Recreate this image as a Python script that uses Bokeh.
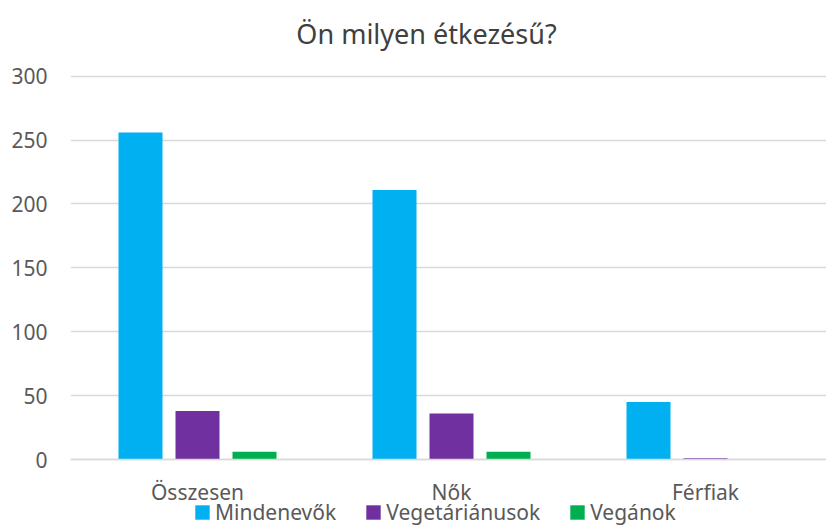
from bokeh.plotting import figure
from bokeh.models import ColumnDataSource, Range1d, FixedTicker, Legend, LegendItem, Label
from bokeh.transform import dodge
from bokeh.embed import file_html
from bokeh.resources import INLINE
import numpy as np

categories = ["Összesen", "Nők", "Férfiak"]
series = ["Mindenevők", "Vegetáriánusok", "Vegánok"]
mindenevok = [256, 211, 45]
vegetarianusok = [38, 36, 1]
veganok = [6, 6, 0]
colors = ["#00B0F0", "#7030A0", "#00B050"]
y_ticks = [0, 50, 100, 150, 200, 250, 300]
title_text = "Ön milyen étkezésű?"

FONT = "Noto Sans"
W, H = 826, 526
LEFT = 70              # frame left (px)
ZERO_PX = 459          # pixel row of value 0
TOP_PX = 75.7          # pixel row of value 300
K = (ZERO_PX - TOP_PX) / 300.0   # px per unit
CAT_PX = 254           # px per category

pos = list(np.arange(len(categories)) + 0.5)
src = ColumnDataSource(dict(x=pos, cat=categories, m=mindenevok, v=vegetarianusok, g=veganok))

p = figure(width=W, height=H, output_backend="svg", toolbar_location=None,
           x_range=Range1d(0, (W - LEFT) / CAT_PX),
           y_range=Range1d(-(H - ZERO_PX) / K, ZERO_PX / K),
           min_border_left=LEFT, min_border_right=0, min_border_top=0, min_border_bottom=0)
p.outline_line_color = None

step = 57 / CAT_PX
w = 44 / CAT_PX
renderers = []
for i, (col, c) in enumerate(zip(["m", "v", "g"], colors)):
    r = p.vbar(x=dodge("x", (i - 1) * step), top=col, width=w, source=src,
               fill_color=c, line_color=None)
    renderers.append(r)

p.xaxis.fixed_location = 0
p.xaxis.ticker = FixedTicker(ticks=pos)
p.xaxis.major_label_overrides = {float(x): c for x, c in zip(pos, categories)}
p.xaxis.major_tick_line_color = None
p.xaxis.minor_tick_line_color = None
p.xaxis.axis_line_color = "#D9D9D9"
p.xaxis.axis_line_width = 1.5
p.xaxis.major_label_standoff = 12
p.xaxis.major_label_text_font = FONT
p.xaxis.major_label_text_font_size = "21px"
p.xaxis.major_label_text_color = "#595959"

p.yaxis.ticker = FixedTicker(ticks=y_ticks)
p.yaxis.axis_line_color = None
p.yaxis.major_tick_line_color = None
p.yaxis.minor_tick_line_color = None
p.yaxis.major_label_standoff = 17
p.yaxis.major_label_text_font = FONT
p.yaxis.major_label_text_font_size = "21px"
p.yaxis.major_label_text_color = "#595959"

p.xgrid.grid_line_color = None
p.ygrid.ticker = FixedTicker(ticks=y_ticks)
p.ygrid.grid_line_color = "#D9D9D9"
p.ygrid.grid_line_width = 1.5

title = Label(x=(426 - LEFT) / CAT_PX, y=(ZERO_PX - 33) / K, text=title_text,
              text_align="center", text_baseline="middle", text_font=FONT,
              text_font_size="27px", text_color="#404040")
p.add_layout(title)

legend = Legend(items=[LegendItem(label=s, renderers=[r]) for s, r in zip(series, renderers)],
                orientation="horizontal", location=(123, 0))
legend.border_line_color = None
legend.background_fill_alpha = 0
legend.padding = 0
legend.margin = 0
legend.spacing = 28
legend.glyph_width = 18
legend.glyph_height = 18
legend.label_standoff = 4
legend.label_text_font = FONT
legend.label_text_font_size = "21px"
legend.label_text_color = "#595959"
p.add_layout(legend)

open("out.html", "w").write(file_html(p, INLINE))
